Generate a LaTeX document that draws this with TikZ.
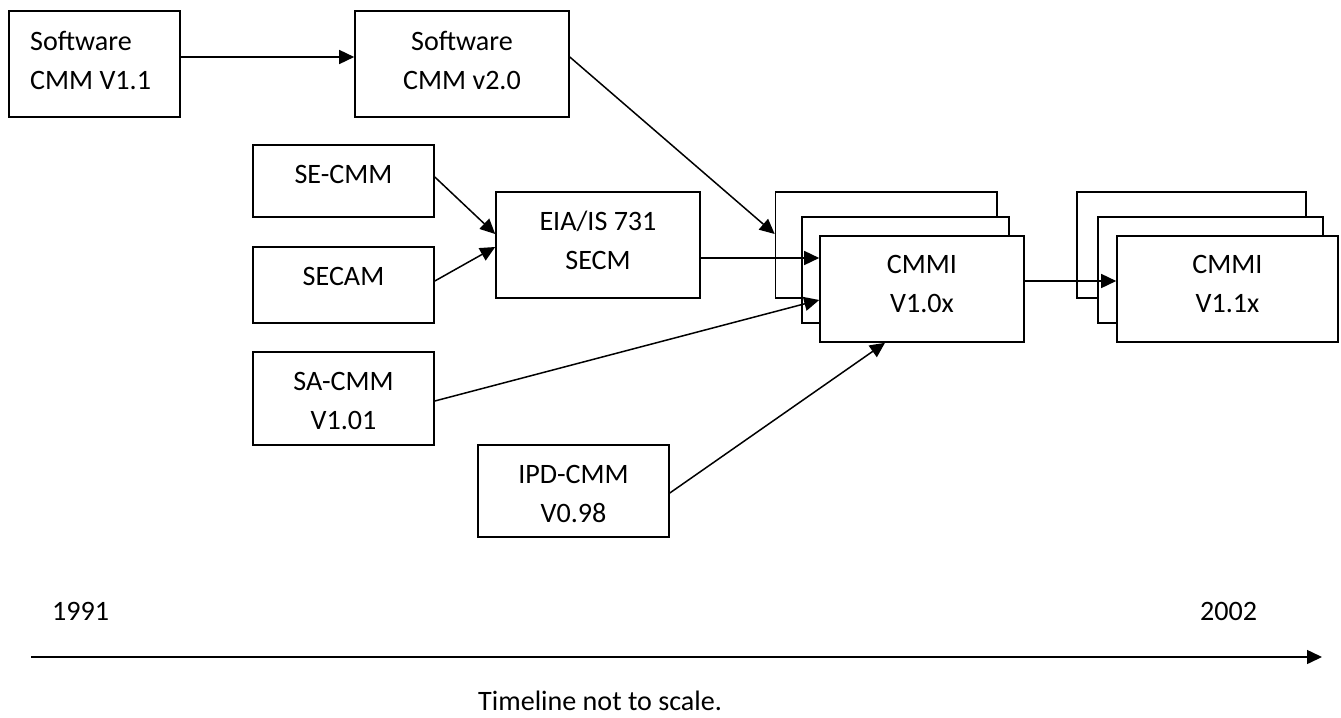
\documentclass[tikz,border=0pt]{standalone}
\usepackage{fontspec}
\setmainfont{Carlito}
\usetikzlibrary{arrows.meta}
\newcommand\fstrut{\rule{0pt}{24bp}}
\begin{document}
\begin{tikzpicture}[x=1bp,y=-1bp,
  box/.style={draw=black, fill=white, line width=1.6bp, inner sep=0pt},
  txt/.style={font=\fontsize{28.2pt}{39.1pt}\selectfont, align=center, inner sep=0pt, anchor=north},
  lbl/.style={font=\fontsize{28.2pt}{39.1pt}\selectfont, inner sep=0pt, anchor=base west},
  arr/.style={draw=black, line width=1.5bp, -{Triangle[length=15bp,width=14bp]}}]
\useasboundingbox (0,0) rectangle (1341,717);
% boxes
\node[box, minimum width=171bp, minimum height=106bp] (A) at (94.5,64) {};
\node[box, minimum width=214bp, minimum height=106bp] (B) at (462,64) {};
\node[box, minimum width=181bp, minimum height=72bp] (SE) at (343.5,181) {};
\node[box, minimum width=181bp, minimum height=76bp] (SECAM) at (343.5,285) {};
\node[box, minimum width=204bp, minimum height=106bp] (EIA) at (598,245) {};
\node[box, minimum width=181bp, minimum height=93bp] (SA) at (343.5,398.5) {};
\node[box, minimum width=191bp, minimum height=92bp] (IPD) at (573.5,491) {};
\node[box, minimum width=221.5bp, minimum height=106bp] (C0b) at (886.25,245) {};
\node[box, minimum width=207bp, minimum height=106bp] (C0m) at (905.5,270) {};
\node[box, minimum width=204bp, minimum height=106bp] (C0f) at (922,289) {};
\node[box, minimum width=229bp, minimum height=106bp] (C1b) at (1191.5,245) {};
\node[box, minimum width=225bp, minimum height=106bp] (C1m) at (1210.5,270) {};
\node[box, minimum width=221bp, minimum height=106bp] (C1f) at (1227.5,289) {};
% texts
\node[txt, anchor=north west, align=left] (tA) at (30,26) {\fstrut Software\\CMM V1.1};
\node[txt] (tB) at (462,26) {\fstrut Software\\CMM v2.0};
\node[txt] (tSE) at (343.5,159) {\fstrut SE-CMM};
\node[txt] (tSECAM) at (343.5,261) {\fstrut SECAM};
\node[txt] (tEIA) at (598,206) {\fstrut EIA/IS 731\\SECM};
\node[txt] (tSA) at (343.5,366) {\fstrut SA-CMM\\V1.01};
\node[txt] (tIPD) at (573.5,459) {\fstrut IPD-CMM\\V0.98};
\node[txt] (tC0) at (922,249) {\fstrut CMMI\\V1.0x};
\node[txt] (tC1) at (1227.5,249) {\fstrut CMMI\\V1.1x};
% connectors
\draw[arr] (A.east |- 0,57) -- (B.west |- 0,57);
\draw[arr] (B.east |- 0,57) -- (C0b.west |- 0,234);
\draw[arr] (SE.east |- 0,177) -- (EIA.west |- 0,234);
\draw[arr] (SECAM.east |- 0,281) -- (EIA.west |- 0,247);
\draw[arr] (EIA.east |- 0,258) -- (C0f.west |- 0,258);
\draw[arr] (SA.east |- 0,401) -- (C0f.west |- 0,300);
\draw[arr] (IPD.east |- 0,493) -- (C0f.south -| 885,0);
\draw[arr] (C0f.east |- 0,281) -- (C1f.west |- 0,281);
% timeline
\coordinate (tl0) at (31,657);
\coordinate (tl1) at (1322,657);
\draw[arr] (tl0) -- (tl1);
\node[lbl] (y1991) at (52,620) {1991};
\node[lbl] (y2002) at (1200,620) {2002};
\node[lbl] (note) at (478,710) {Timeline not to scale.};
\end{tikzpicture}
\end{document}
